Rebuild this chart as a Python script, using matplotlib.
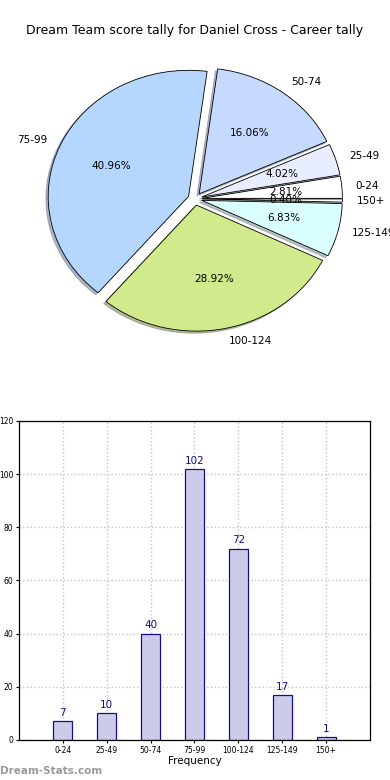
import matplotlib
matplotlib.use("Agg")
import matplotlib.pyplot as plt

categories = ["0-24", "25-49", "50-74", "75-99", "100-124", "125-149", "150+"]
counts = [7, 10, 40, 102, 72, 17, 1]
pie_colors = ["#ffffff", "#e8eeff", "#c6d9ff", "#b4d6ff", "#d0ea8c", "#daffff", "#ffffff"]
explode = [0.05, 0.05, 0.05, 0.05, 0.05, 0.05, 0.05]
yticks = [0, 20, 40, 60, 80, 100, 120]

fig = plt.figure(figsize=(3.9, 7.8), dpi=100)

ax1 = fig.add_axes([0.05, 0.543, 0.9, 0.404])
wedges, texts, autotexts = ax1.pie(counts, labels=categories, colors=pie_colors,
                                    explode=explode, autopct="%.2f%%",
                                    shadow={"ox": -0.012, "oy": -0.012, "shade": 0.5},
                                    startangle=0,
                                    wedgeprops=dict(edgecolor="black", linewidth=0.6),
                                    textprops=dict(fontsize=7.5))
ax1.set_aspect("auto")
ax1.set_xlim(-1.25, 1.25)
ax1.set_ylim(-1.25, 1.25)
fig.text(0.5, 0.961, "Dream Team score tally for Daniel Cross - Career tally",
         ha="center", va="center", fontsize=9)

ax2 = fig.add_axes([0.0487, 0.0513, 0.9, 0.409])
x = list(range(len(categories)))
bars = ax2.bar(x, counts, width=0.43, color="#ccccea", edgecolor="#10108a", linewidth=0.9, zorder=2)
for xi, c in zip(x, counts):
    ax2.text(xi, c + 1.2, str(c), ha="center", va="bottom", fontsize=7.5, color="#10108a")
ax2.set_xlim(-1, 7)
ax2.set_ylim(0, 120)
ax2.set_xticks(x)
ax2.set_xticklabels(categories, fontsize=5.5)
ax2.set_yticks(yticks)
ax2.set_yticklabels([str(v) for v in yticks], fontsize=5.5)
ax2.tick_params(length=2, pad=2)
ax2.grid(True, linestyle=":", color="#c4c4c4", linewidth=1.0, zorder=0)
ax2.set_axisbelow(True)
ax2.set_xlabel("Frequency", fontsize=7.5, labelpad=1)
for s in ax2.spines.values():
    s.set_linewidth(0.9)

fig.text(0.0, 0.012, "Dream-Stats.com", fontsize=7.5, color="#999999", fontweight="bold",
         ha="left", va="center")

fig.savefig("out.png", dpi=100)
